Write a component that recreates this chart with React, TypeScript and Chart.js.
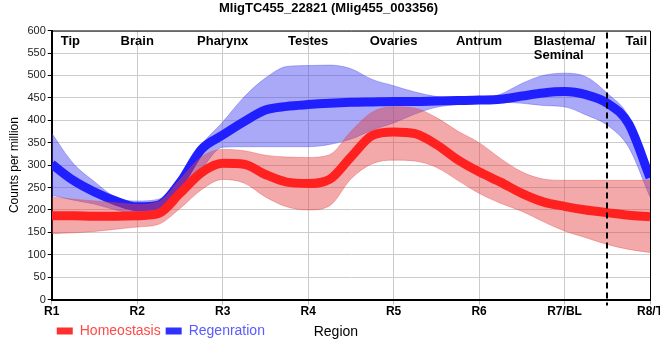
import React, { useEffect, useRef } from "react";
import { Chart, registerables } from "chart.js";

Chart.register(...registerables);

const chartTitle = "MligTC455_22821 (Mlig455_003356)";
const regionTicks = ["R1", "R2", "R3", "R4", "R5", "R6", "R7/BL", "R8/T"];
const tissueNames = ["Tip", "Brain", "Pharynx", "Testes", "Ovaries", "Antrum", "Blastema/\nSeminal", "Tail"];
const boundaryPosition = 6.5;
const xAxisTitle = "Region";
const yAxisTitle = "Counts per million";
const seriesNames = ["Homeostasis", "Regenration"];

// sample positions along the region axis (R1 = 0 ... R8/T = 7)
const samplePositions = [
  0, 0.25, 0.5, 0.75, 1, 1.25, 1.5, 1.75, 2, 2.25, 2.5, 2.75, 3, 3.25, 3.5,
  3.75, 4, 4.25, 4.5, 4.75, 5, 5.25, 5.5, 5.75, 6, 6.25, 6.5, 6.75, 7,
];

const homeoMean = [
  187, 187, 186, 186, 187, 192, 237, 283, 304, 302, 279, 262, 259, 268, 318,
  366, 374, 370, 346, 312, 285, 262, 237, 218, 208, 200, 194, 188, 185,
];
const homeoUpper = [
  229, 224, 220, 216, 212, 218, 268, 318, 335, 332, 322, 318, 317, 323, 375,
  418, 430, 427, 406, 376, 350, 315, 285, 269, 266, 266, 266, 266, 266,
];
const homeoLower = [
  147, 149, 152, 157, 162, 168, 203, 245, 268, 260, 229, 207, 200, 209, 269,
  303, 311, 309, 295, 266, 237, 215, 197, 174, 153, 138, 123, 112, 105,
];

const regenMean = [
  302, 266, 240, 220, 207, 211, 261, 335, 367, 397, 423, 431, 435, 438, 440,
  441, 442, 442, 443, 444, 445, 447, 454, 461, 464, 457, 438, 392, 272,
];
const regenUpper = [
  371, 304, 263, 228, 220, 224, 272, 345, 396, 452, 494, 520, 522, 523, 515,
  491, 477, 463, 453, 448, 447, 458, 482, 500, 505, 497, 460, 408, 278,
];
const regenLower = [
  233, 222, 213, 200, 192, 196, 229, 290, 340, 341, 341, 341, 341, 346, 358,
  378, 394, 414, 429, 435, 438, 440, 438, 433, 430, 412, 389, 340, 229,
];

const SANS = '"Liberation Sans", Arial, Helvetica, sans-serif';

const pts = (vals: number[]) => vals.map((v, i) => ({ x: samplePositions[i], y: v }));

const decorPlugin = {
  id: "decor",
  afterDatasetsDraw(chart: any) {
    const { ctx, chartArea: a, scales } = chart;
    const x = scales.x;
    ctx.save();
    // dashed boundary
    const bx = Math.round(x.getPixelForValue(boundaryPosition));
    ctx.strokeStyle = "#000";
    ctx.lineWidth = 2;
    ctx.setLineDash([6, 4]);
    ctx.beginPath();
    ctx.moveTo(bx, a.top + 2);
    ctx.lineTo(bx, a.bottom + 6);
    ctx.stroke();
    ctx.setLineDash([]);
    // top & right border
    ctx.lineWidth = 1;
    ctx.beginPath();
    ctx.moveTo(a.left, a.top + 0.5);
    ctx.lineTo(a.right + 0.5, a.top + 0.5);
    ctx.lineTo(a.right + 0.5, a.bottom);
    ctx.stroke();
    // tissue labels
    ctx.font = "bold 13px " + SANS;
    ctx.fillStyle = "#000";
    ctx.textAlign = "left";
    ctx.textBaseline = "top";
    tissueNames.forEach((name, i) => {
      const lines = name.split("\n");
      const w = Math.max(...lines.map((l) => ctx.measureText(l).width));
      let sx = x.getPixelForValue(i) - w / 2;
      sx = Math.max(sx, a.left + 9);
      sx = Math.min(sx, a.right - 3 - w);
      lines.forEach((l, j) => ctx.fillText(l, sx, a.top + 4 + j * 14));
    });
    ctx.restore();
  },
  afterDraw(chart: any) {
    const { ctx, chartArea: a, legend } = chart;
    ctx.save();
    ctx.font = "14px " + SANS;
    ctx.fillStyle = "#000";
    ctx.textAlign = "center";
    ctx.textBaseline = "middle";
    const cy = legend.top + 5 + 7;
    ctx.fillText(xAxisTitle, (a.left + a.right) / 2 - 15, cy + 1);
    ctx.restore();
  },
};

export default function App() {
  const ref = useRef<HTMLCanvasElement>(null);
  useEffect(() => {
    if (!ref.current) return;
    const bandOpts = (color: string) => ({
      borderColor: color,
      borderWidth: 1,
      pointRadius: 0,
      cubicInterpolationMode: "monotone" as const,
    });
    const chart = new Chart(ref.current, {
      type: "line",
      data: {
        datasets: [
          {
            label: seriesNames[0],
            data: pts(homeoMean),
            borderColor: "#ff2020",
            backgroundColor: "#ff2020",
            borderWidth: 9,
            pointRadius: 0,
            fill: false,
            order: 0,
            cubicInterpolationMode: "monotone",
          },
          {
            label: "_homeoUpper",
            data: pts(homeoUpper),
            ...bandOpts("rgba(225,60,60,0.35)"),
            backgroundColor: "rgba(228,64,64,0.45)",
            fill: "+1",
            order: 1,
          },
          {
            label: "_homeoLower",
            data: pts(homeoLower),
            ...bandOpts("rgba(225,60,60,0.35)"),
            fill: false,
            order: 1,
          },
          {
            label: seriesNames[1],
            data: pts(regenMean),
            borderColor: "#2020ff",
            backgroundColor: "#2020ff",
            borderWidth: 9,
            pointRadius: 0,
            fill: false,
            order: 2,
            cubicInterpolationMode: "monotone",
          },
          {
            label: "_regenUpper",
            data: pts(regenUpper),
            ...bandOpts("rgba(60,60,240,0.35)"),
            backgroundColor: "rgba(64,64,240,0.45)",
            fill: "+1",
            order: 3,
          },
          {
            label: "_regenLower",
            data: pts(regenLower),
            ...bandOpts("rgba(60,60,240,0.35)"),
            fill: false,
            order: 3,
          },
        ],
      },
      options: {
        animation: false,
        responsive: false,
        devicePixelRatio: 1,
        layout: { autoPadding: false, padding: { left: 7, right: 10, top: 0, bottom: 12 } },
        plugins: {
          title: {
            display: true,
            text: chartTitle,
            color: "#000",
            font: { family: SANS, size: 13, weight: "bold" },
            padding: { top: 1, bottom: 14 },
          },
          legend: {
            position: "bottom",
            align: "start",
            fullSize: false,
            labels: {
              boxWidth: 16,
              boxHeight: 7,
              padding: 5,
              font: { family: SANS, size: 14 },
              generateLabels: () =>
                [
                  {
                    text: seriesNames[0],
                    fillStyle: "#ff3030",
                    strokeStyle: "#ff3030",
                    lineWidth: 0,
                    fontColor: "#ff4a4a",
                    hidden: false,
                    datasetIndex: 0,
                  },
                  {
                    text: seriesNames[1],
                    fillStyle: "#3030ff",
                    strokeStyle: "#3030ff",
                    lineWidth: 0,
                    fontColor: "#5a5aff",
                    hidden: false,
                    datasetIndex: 3,
                  },
                ] as any,
            },
          },
          tooltip: { enabled: false },
        },
        scales: {
          x: {
            type: "linear",
            min: 0,
            max: 7,
            afterFit: (s: any) => {
              s.paddingRight = 0;
              s.paddingLeft = 0;
            },
            ticks: {
              stepSize: 1,
              autoSkip: false,
              maxRotation: 0,
              padding: 0,
              color: "#000",
              font: { family: SANS, size: 12, weight: "bold" },
              callback: (v: any) => regionTicks[Number(v)] ?? "",
            },
            grid: { color: "#cccccc", tickLength: 5, tickColor: "#bbbbbb" },
            border: { color: "#000", width: 2 },
          },
          y: {
            min: 0,
            max: 600,
            ticks: {
              stepSize: 50,
              padding: 2,
              color: "#222",
              font: { family: SANS, size: 11 },
            },
            grid: { color: "#cccccc", tickLength: 4, tickColor: "#000" },
            border: { color: "#000", width: 2 },
            title: {
              display: true,
              text: yAxisTitle,
              color: "#000",
              font: { family: SANS, size: 12 },
              padding: { top: 0, bottom: 4 },
            },
          },
        },
      },
      plugins: [decorPlugin],
    });
    return () => chart.destroy();
  }, []);
  return (
    <div style={{ position: "fixed", left: 0, top: 0, width: 660, height: 360, background: "#fff" }}>
      <canvas ref={ref} width={660} height={360} style={{ display: "block" }} />
    </div>
  );
}
